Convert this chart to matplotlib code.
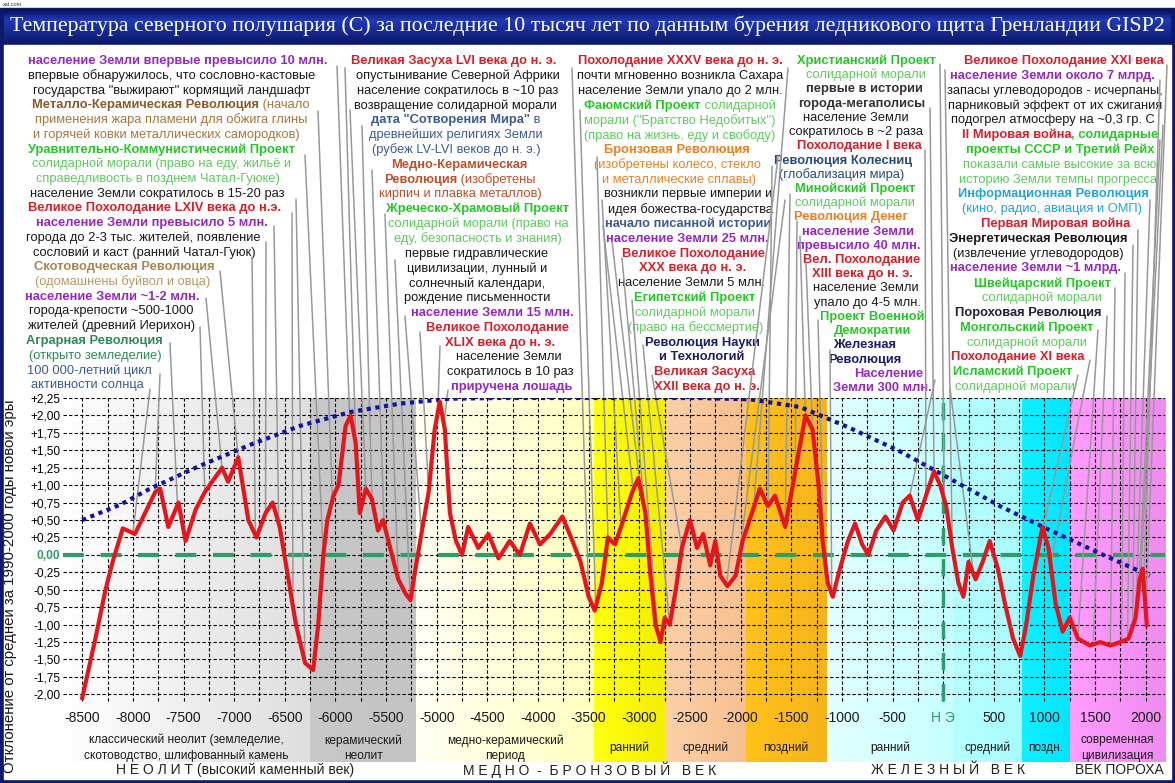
import matplotlib
matplotlib.use("Agg")
import matplotlib.pyplot as plt
import numpy as np
from matplotlib.colors import LinearSegmentedColormap
from matplotlib.patches import Rectangle

plt.rcParams["font.family"] = ["Liberation Sans", "DejaVu Sans"]

W, H = 1175, 783

# ---------------- data ----------------
years = [-8500, -8370, -8270, -8200, -8100, -7980, -7880, -7780, -7730, -7650,
         -7550, -7480, -7380, -7290, -7120, -7060, -6960, -6860, -6780, -6690,
         -6620, -6550, -6470, -6390, -6300, -6220, -6170, -6120, -6080, -6020,
         -5970, -5900, -5850, -5800, -5760, -5700, -5640, -5580, -5530, -5460,
         -5380, -5310, -5260, -5210, -5140, -5080, -5020, -4970, -4920, -4870,
         -4810, -4750, -4690, -4590, -4490, -4390, -4280, -4180, -4080, -3980,
         -3880, -3760, -3660, -3580, -3500, -3440, -3370, -3310, -3240, -3170,
         -3070, -3010, -2940, -2890, -2840, -2790, -2750, -2700, -2640, -2580,
         -2500, -2430, -2370, -2300, -2250, -2200, -2130, -2050, -1980, -1900,
         -1810, -1730, -1660, -1560, -1460, -1360, -1290, -1230, -1190, -1140,
         -1090, -1020, -940, -870, -800, -740, -660, -570, -490, -400,
         -330, -250, -170, -90, -30, 30, 90, 150, 200, 250,
         320, 390, 460, 540, 610, 690, 760, 820, 890, 980,
         1040, 1110, 1180, 1250, 1330, 1450, 1550, 1650, 1750, 1830,
         1900, 1940, 1970, 1990, 2010]
temp = [-2.05, -1.20, -0.50, -0.10, 0.38, 0.30, 0.60, 0.90, 0.95, 0.40,
        0.75, 0.20, 0.65, 0.90, 1.25, 1.05, 1.40, 0.50, 0.25, 0.60,
        0.75, 0.40, -0.30, -1.00, -1.55, -1.65, -1.00, 0.00, 0.50, 0.85,
        1.00, 1.85, 2.00, 1.60, 0.60, 0.95, 0.80, 0.35, 0.50, 0.10,
        -0.35, -0.55, -0.65, -0.20, 0.40, 0.90, 1.80, 2.20, 1.80, 0.60,
        0.20, 0.00, 0.40, 0.10, 0.30, -0.05, 0.20, 0.00, 0.45, 0.15,
        0.30, 0.55, 0.20, -0.10, -0.60, -0.80, -0.40, 0.25, 0.15, 0.45,
        0.90, 1.10, 0.60, -0.30, -1.00, -1.25, -0.90, -1.00, -0.50, 0.10,
        0.50, 0.10, 0.30, -0.15, 0.20, -0.30, -0.45, -0.30, 0.20, 0.55,
        0.95, 0.70, 0.85, 0.40, 1.20, 2.00, 1.80, 1.00, 0.20, -0.40,
        -0.60, -0.20, 0.20, 0.45, 0.15, 0.00, 0.35, 0.55, 0.35, 0.75,
        0.85, 0.50, 0.85, 1.20, 1.00, 0.70, 0.10, -0.40, -0.60, -0.10,
        -0.35, -0.10, 0.20, -0.20, -0.70, -1.20, -1.45, -1.00, -0.30, 0.40,
        0.10, -0.70, -1.10, -0.90, -1.20, -1.30, -1.25, -1.30, -1.25, -1.20,
        -0.90, -0.35, -0.20, -0.60, -1.00]

trend_years = [-8500, -8125, -7830, -7335, -6840, -6350, -5850, -5360, -4870, -4370,
               -3390, -2400, -1900, -1410, -920, -420, -30, 560, 1060, 1550, 2040]
trend_temp = [0.50, 0.72, 0.95, 1.28, 1.58, 1.85, 2.05, 2.17, 2.24, 2.25,
              2.25, 2.25, 2.23, 2.12, 1.82, 1.48, 1.17, 0.70, 0.35, 0.02, -0.30]

x_ticks = [-8500, -8000, -7500, -7000, -6500, -6000, -5500, -5000, -4500, -4000, -3500,
           -3000, -2500, -2000, -1500, -1000, -500, 0, 500, 1000, 1500, 2000]
x_tick_labels = ["-8500", "-8000", "-7500", "-7000", "-6500", "-6000", "-5500", "-5000",
                 "-4500", "-4000", "-3500", "-3000", "-2500", "-2000", "-1500", "-1000",
                 "-500", "Н Э", "500", "1000", "1500", "2000"]
y_ticks = [2.25, 2.0, 1.75, 1.5, 1.25, 1.0, 0.75, 0.5, 0.25, 0.0,
           -0.25, -0.5, -0.75, -1.0, -1.25, -1.5, -1.75, -2.0]
y_tick_labels = ["+2,25", "+2,00", "+1,75", "+1,50", "+1,25", "+1,00", "+0,75", "+0,50",
                 "+0,25", "0,00", "-0,25", "-0,50", "-0,75", "-1,00", "-1,25", "-1,50",
                 "-1,75", "-2,00"]

era_bounds = [-8690, -6250, -5200, -3450, -2750, -1950, -1150, 100, 780, 1250, 2190]
era_colors = [("#ffffff", "#dedede"), ("#c8c8c8", "#c4c4c4"), ("#fffff2", "#ffffc0"),
              ("#ffff10", "#f4ee00"), ("#fbd0a6", "#f8c090"), ("#ffc21a", "#f6b41a"),
              ("#e2ffff", "#c6ffff"), ("#b6ffff", "#a8fbff"), ("#10f0ff", "#00e6ff"),
              ("#ff9cff", "#f08cf0")]
era_labels = ["классический неолит (земледелие,\nскотоводство, шлифованный камень",
              "керамический\nнеолит", "медно-керамический\nпериод",
              "ранний", "средний", "поздний", "ранний", "средний", "поздн.",
              "современная\nцивилизация"]
age_labels = ["Н Е О Л И Т (высокий каменный век)", "М Е Д Н О  -  Б Р О Н З О В Ы Й   В Е К",
              "Ж Е Л Е З Н Ы Й   В Е К", "ВЕК ПОРОХА"]
age_centers = [-6990, -3490, 50, 1740]

# ---------------- annotation text (colours) ----------------
PUR, RED, BLK = "#9428c8", "#dc1e28", "#1a1a1a"
BRN, BRN2 = "#8a5a28", "#a8783e"
GRN, GRN2 = "#26c826", "#5ccc5c"
TAN, TAN2 = "#a88650", "#b89868"
TEAL, SLATE = "#2e8b57", "#3c5c90"
RUST, ORG = "#c0502a", "#ee8020"
NAVY, CYAN = "#1c1c6c", "#22a4dc"

columns = [
    (385, [
        (178, [("население Земли впервые превысило 10 млн.", PUR, True)]),
        (172, [("впервые обнаружилось, что сословно-кастовые", BLK, False)]),
        (172, [('государства "выжирают" кормящий ландшафт', BLK, False)]),
        (171, [("Металло-Керамическая Революция", BRN, True), (" (начало", BRN2, False)]),
        (171, [("применения жара пламени для обжига глины", BRN2, False)]),
        (166, [("и горячей ковки металлических самородков)", BRN2, False)]),
        (161, [("Уравнительно-Коммунистический Проект", GRN, True)]),
        (162, [("солидарной морали (право на еду, жильё и", GRN2, False)]),
        (158, [("справедливость в позднем Чатал-Гуюке)", GRN2, False)]),
        (157, [("население Земли сократилось в 15-20 раз", BLK, False)]),
        (155, [("Великое Похолодание LXIV века до н.э.", RED, True)]),
        (152, [("население Земли превысило 5 млн.", PUR, True)]),
        (143, [("города до 2-3 тыс. жителей, появление", BLK, False)]),
        (144, [("сословий и каст (ранний Чатал-Гуюк)", BLK, False)]),
        (124, [("Скотоводческая Революция", TAN, True)]),
        (123, [("(одомашнены буйвол и овца)", TAN2, False)]),
        (112, [("население Земли ~1-2 млн.", PUR, True)]),
        (111, [("города-крепости ~500-1000", BLK, False)]),
        (112, [("жителей (древний Иерихон)", BLK, False)]),
        (94, [("Аграрная Революция", TEAL, True)]),
        (95, [("(открыто земледелие)", TEAL, False)]),
        (89, [("100 000-летний цикл", SLATE, False)]),
        (87, [("активности солнца", SLATE, False)]),
    ]),
    (387, [
        (454, [("Великая Засуха LVI века до н. э.", RED, True)]),
        (458, [("опустынивание Северной Африки", BLK, False)]),
        (458, [("население сократилось в ~10 раз", BLK, False)]),
        (455, [("возвращение солидарной морали", BLK, False)]),
        (456, [('дата "Сотворения Мира"', SLATE, True), (" в", SLATE, False)]),
        (456, [("древнейших религиях Земли", SLATE, False)]),
        (456, [("(рубеж LV-LVI веков до н. э.)", SLATE, False)]),
        (459, [("Медно-Керамическая", RUST, True)]),
        (460, [("Революция", RUST, True), (" (изобретены", RUST, False)]),
        (460, [("кирпич и плавка металлов)", RUST, False)]),
        (478, [("Жреческо-Храмовый Проект", GRN, True)]),
        (478, [("солидарной морали (право на", GRN2, False)]),
        (478, [("еду, безопасность и знания)", GRN2, False)]),
        (477, [("первые гидравлические", BLK, False)]),
        (477, [("цивилизации, лунный и", BLK, False)]),
        (477, [("солнечный календари,", BLK, False)]),
        (477, [("рождение письменности", BLK, False)]),
        (492, [("население Земли 15 млн.", PUR, True)]),
        (498, [("Великое Похолодание", RED, True)]),
        (500, [("XLIX века до н. э.", RED, True)]),
        (509, [("население Земли", BLK, False)]),
        (510, [("сократилось в 10 раз", BLK, False)]),
        (512, [("приручена лошадь", PUR, True)]),
    ]),
    (387, [
        (680, [("Похолодание XXXV века до н. э.", RED, True)]),
        (680, [("почти мгновенно возникла Сахара", BLK, False)]),
        (680, [("население Земли упало до 2 млн.", BLK, False)]),
        (680, [("Фаюмский Проект", GRN, True), (" солидарной", GRN2, False)]),
        (680, [('морали ("Братство Недобитых")', GRN2, False)]),
        (680, [("(право на жизнь, еду и свободу)", GRN2, False)]),
        (677, [("Бронзовая Революция", ORG, True)]),
        (678, [("(изобретены колесо, стекло", ORG, False)]),
        (679, [("и металлические сплавы)", ORG, False)]),
        (688, [("возникли первые империи и", BLK, False)]),
        (690, [("идея божества-государства", BLK, False)]),
        (688, [("начало писанной истории", SLATE, True)]),
        (687, [("население Земли 25 млн.", PUR, True)]),
        (693, [("Великое Похолодание", RED, True)]),
        (693, [("XXX века до н. э.", RED, True)]),
        (692, [("население Земли 5 млн.", BLK, False)]),
        (695, [("Египетский Проект", GRN, True)]),
        (695, [("солидарной морали", GRN2, False)]),
        (696, [("(право на бессмертие)", GRN2, False)]),
        (702, [("Революция Науки", NAVY, True)]),
        (702, [("и Технологий", NAVY, True)]),
        (705, [("Великая Засуха", RED, True)]),
        (707, [("XXII века до н. э.", RED, True)]),
    ]),
    (388, [
        (866, [("Христианский Проект", GRN, True)]),
        (866, [("солидарной морали", GRN2, False)]),
        (864, [("первые в истории", "#333333", True)]),
        (862, [("города-мегаполисы", "#333333", True)]),
        (856, [("население Земли", BLK, False)]),
        (856, [("сократилось в ~2 раза", BLK, False)]),
        (859, [("Похолодание I века", RED, True)]),
        (843, [("Революция Колесниц", "#2b4b7b", True)]),
        (842, [("(глобализация мира)", "#2b4b7b", False)]),
        (855, [("Минойский Проект", GRN, True)]),
        (855, [("солидарной морали", GRN2, False)]),
        (851, [("Революция Денег", ORG, True)]),
        (858, [("население Земли", PUR, True)]),
        (859, [("превысило 40 млн.", PUR, True)]),
        (862, [("Вел. Похолодание", RED, True)]),
        (862, [("XIII века до н. э.", RED, True)]),
        (866, [("население Земли", BLK, False)]),
        (867, [("упало до 4-5 млн.", BLK, False)]),
        (872, [("Проект Военной", GRN, True)]),
        (873, [("Демократии", GRN, True)]),
        (865, [("Железная", NAVY, True)]),
        (865, [("Революция", NAVY, True)]),
        (889, [("Население", PUR, True)]),
        (882, [("Земли 300 млн.", PUR, True)]),
    ]),
    (387, [
        (1064, [("Великое Похолодание XXI века", RED, True)]),
        (1052, [("население Земли около 7 млрд.", PUR, True)]),
        (1055, [("запасы углеводородов - исчерпаны,", BLK, False)]),
        (1055, [("парниковый эффект от их сжигания", BLK, False)]),
        (1053, [("подогрел атмосферу на ~0,3 гр. С", BLK, False)]),
        (1060, [("II Мировая война", RED, True), (", солидарные", GRN, True)]),
        (1060, [("проекты СССР и Третий Рейх", GRN, True)]),
        (1060, [("показали самые высокие за всю", GRN2, False)]),
        (1058, [("историю Земли темпы прогресса", GRN2, False)]),
        (1053, [("Информационная Революция", CYAN, True)]),
        (1052, [("(кино, радио, авиация и ОМП)", CYAN, False)]),
        (1056, [("Первая Мировая война", RED, True)]),
        (1038, [("Энергетическая Революция", BLK, True)]),
        (1038, [("(извлечение углеводородов)", BLK, False)]),
        (1035, [("население Земли ~1 млрд.", PUR, True)]),
        (1042, [("Швейцарский Проект", GRN, True)]),
        (1042, [("солидарной морали", GRN2, False)]),
        (1028, [("Пороховая Революция", "#22223a", True)]),
        (1027, [("Монгольский Проект", GRN, True)]),
        (1027, [("солидарной морали", GRN2, False)]),
        (1018, [("Похолодание XI века", RED, True)]),
        (1013, [("Исламский Проект", GRN, True)]),
        (1015, [("солидарной морали", GRN2, False)]),
    ]),
]

# leader lines: start (image px) -> year on the curve
leaders = [
    (337, 66, -5860), (318, 111, -6030), (305, 155, -6120), (296, 199, -6300),
    (292, 213, -6420), (274, 226, -6560), (266, 242, -6690), (252, 257, -6790),
    (220, 271, -6960), (206, 298, -7120), (200, 327, -7290), (170, 343, -7560),
    (160, 374, -7780), (150, 389, -8000),
    (345, 68, -5800), (350, 110, -5700), (362, 126, -5640), (372, 170, -5520),
    (385, 214, -5380), (395, 260, -5260), (405, 316, -5150), (420, 332, -5080),
    (440, 346, -4990), (448, 390, -4930),
    (572, 68, -3500), (580, 110, -3430), (597, 157, -3310), (602, 200, -3180),
    (603, 226, -3060), (612, 241, -2990), (622, 258, -2900), (632, 300, -2820),
    (643, 345, -2700), (652, 375, -2580), (778, 157, -2140), (785, 200, -2020),
    (788, 68, -1870), (940, 64, 10), (930, 108, -90), (925, 150, -170),
    (772, 166, -1730), (790, 194, -1560), (797, 221, -1460), (800, 236, -1360),
    (806, 263, -1290), (818, 320, -1180), (830, 350, -1100), (935, 380, -330),
    (945, 70, 90), (1167, 65, 2000), (1160, 80, 1980), (1163, 125, 1950),
    (1160, 140, 1935), (1150, 200, 1900), (1138, 230, 1870), (1133, 245, 1820),
    (1125, 273, 1760), (1115, 288, 1650), (1107, 316, 1480), (1098, 330, 1330),
    (1090, 360, 1060), (1078, 375, 950), (950, 388, 300),
]

FS = 9.3

fig = plt.figure(figsize=(W / 100, H / 100), dpi=100)
fig.patch.set_facecolor("white")

# background canvas in image pixels
bg = fig.add_axes([0, 0, 1, 1], zorder=0)
bg.set_xlim(0, W)
bg.set_ylim(H, 0)
bg.axis("off")
bg.add_patch(Rectangle((0, 8), W, H - 8, color="#0c1a6a", zorder=0))
bg.add_patch(Rectangle((4, 45), W - 8, H - 49, color="white", zorder=1))
grad = np.concatenate([np.linspace(0, 1, 12), np.linspace(1, 0.2, 24)])[:, None]
title_cmap = LinearSegmentedColormap.from_list("t", ["#0a1258", "#2038b4"])
bg.imshow(grad, extent=(4, W - 4, 43, 9), aspect="auto", cmap=title_cmap, zorder=1)
bg.set_xlim(0, W)
bg.set_ylim(H, 0)
bg.text(3, 4, "xat.com", fontsize=4, color="#333333", va="center")

renderer = fig.canvas.get_renderer()
title = bg.text(W / 2, 26, "Температура северного полушария (С) за последние 10 тысяч лет "
                "по данным бурения ледникового щита Гренландии GISP2",
                family=["Liberation Serif", "DejaVu Serif"], fontsize=16, color="white",
                ha="center", va="center", zorder=3)
tw = title.get_window_extent(renderer).width
title.set_fontsize(16 * 1152 / tw)

# annotation columns
for y_last, lines in columns:
    step = (y_last - 61) / (len(lines) - 1)
    for i, (cx, segs) in enumerate(lines):
        y = 61 + i * step
        arts = [bg.text(0, y, s, color=c, fontsize=FS, fontweight="bold" if b else "normal",
                        ha="left", va="center", zorder=3) for s, c, b in segs]
        widths = [a.get_window_extent(renderer).width for a in arts]
        x = cx - sum(widths) / 2
        for a, w in zip(arts, widths):
            a.set_x(x)
            x += w

# y-axis title
bg.text(10, 586, "Отклонение от средней за 1990-2000 годы новой эры", rotation=90,
        fontsize=10.8, ha="center", va="center", color=BLK, zorder=3)

# main plot
ax = fig.add_axes([63 / W, (H - 762) / H, (1165 - 63) / W, (762 - 398) / H], zorder=1)
ax.patch.set_alpha(0)
for i, lab in enumerate(era_labels):
    x0, x1 = era_bounds[i], era_bounds[i + 1]
    cm = LinearSegmentedColormap.from_list("b%d" % i, list(era_colors[i]))
    ax.imshow(np.linspace(0, 1, 32)[None, :], extent=(x0, x1, -2.97, 2.25), aspect="auto",
              cmap=cm, zorder=0)
    ax.text((x0 + x1) / 2, -2.77, lab, ha="center", va="center", fontsize=8.6,
            linespacing=1.35, color=BLK, zorder=2)
ax.set_xlim(era_bounds[0], era_bounds[-1])
ax.set_ylim(-2.97, 2.25)

for v in y_ticks:
    ax.plot([era_bounds[0], era_bounds[-1]], [v, v], color="black", lw=0.8,
            dashes=(3, 2), zorder=1)
for yr in range(-8500, 2001, 250):
    ax.plot([yr, yr], [-2.1, 2.25], color="black", lw=0.8, dashes=(3, 2), zorder=1)
ax.axhline(0, color="#2f9d68", lw=3, dashes=(5, 4), zorder=2)
ax.plot([0, 0], [-2.1, 2.25], color="#2f9d68", lw=2.5, dashes=(5, 4), zorder=2)

for px, py, yr in leaders:
    ax.annotate("", xy=(yr, np.interp(yr, years, temp)), xycoords="data",
                xytext=(px, H - py), textcoords="figure pixels", annotation_clip=False,
                arrowprops=dict(arrowstyle="-", color="#999999", lw=1.1,
                                shrinkA=0, shrinkB=0), zorder=3)

ax.plot(trend_years, trend_temp, color="#1212a0", lw=3, linestyle=(0, (1, 1.1)), zorder=4)
ax.plot(years, temp, color="#e8141c", lw=3, solid_joinstyle="round", zorder=5)

for xv, lab in zip(x_ticks, x_tick_labels):
    ax.text(xv, -2.34, lab, ha="center", va="center", fontsize=10,
            color="#2f9d68" if lab == "Н Э" else BLK, zorder=2)

ax.set_xticks([])
ax.set_yticks(y_ticks)
ax.set_yticklabels(y_tick_labels, fontsize=8.6)
ax.tick_params(axis="y", length=0, pad=2)
for t in ax.get_yticklabels():
    if t.get_text() == "0,00":
        t.set_color("#2f9d68")
        t.set_fontweight("bold")
for s in ax.spines.values():
    s.set_visible(False)

# age names under the chart
for xv, lab in zip(age_centers, age_labels):
    ax.text(xv, -3.08, lab, ha="center", va="center", fontsize=10, color="#222222",
            clip_on=False)

fig.savefig("out.png", dpi=100)
